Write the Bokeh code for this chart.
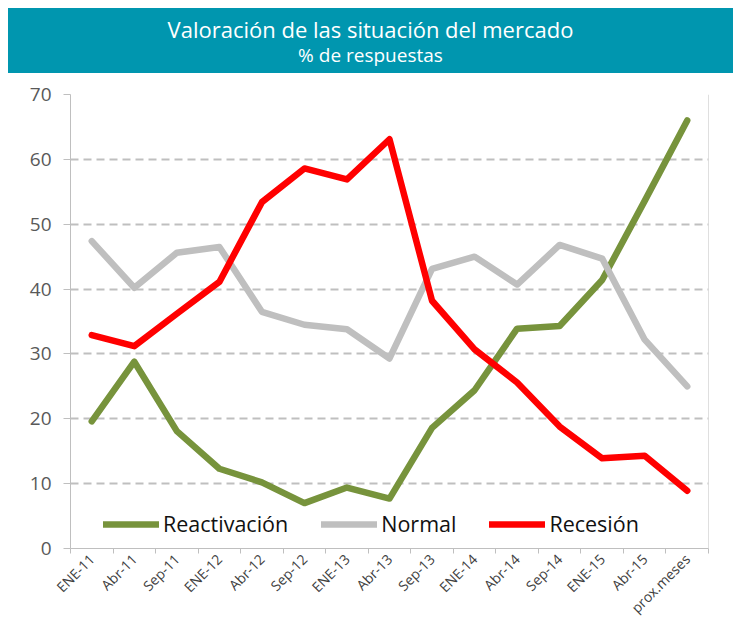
from bokeh.plotting import figure
from bokeh.models import (Range1d, FixedTicker, Legend, LegendItem, Span, Div)
from bokeh.layouts import column
from bokeh.embed import file_html
from bokeh.resources import INLINE

categories = ["ENE-11", "Abr-11", "Sep-11", "ENE-12", "Abr-12", "Sep-12", "ENE-13",
              "Abr-13", "Sep-13", "ENE-14", "Abr-14", "Sep-14", "ENE-15", "Abr-15",
              "prox.meses"]
reactivacion = [19.6, 28.8, 18.1, 12.3, 10.2, 7.0, 9.4, 7.7, 18.6, 24.4, 33.9, 34.3, 41.4, 53.6, 66.0]
normal = [47.4, 40.2, 45.6, 46.5, 36.5, 34.5, 33.8, 29.3, 43.1, 45.0, 40.7, 46.8, 44.7, 32.2, 25.0]
recesion = [32.9, 31.2, 36.2, 41.1, 53.4, 58.6, 56.9, 63.1, 38.2, 30.7, 25.6, 18.8, 13.9, 14.3, 8.9]
y_ticks = [0, 10, 20, 30, 40, 50, 60, 70]
title_1 = "Valoración de las situación del mercado"
title_2 = "% de respuestas"

FONT = "Open Sans"
TEAL = "#0096AF"
W = 725
BANNER_H = 65
MAIN_H = 553

# ---- banner ----
banner = Div(
    text=(f'<div style="font-size:22px;line-height:26px;padding-top:8px;">{title_1}</div>'
          f'<div style="font-size:19px;line-height:26px;">{title_2}</div>'),
    width=W, height=BANNER_H, margin=(0, 0, 0, 0),
    styles={"background-color": TEAL, "color": "white", "text-align": "center",
            "font-family": "'Open Sans', sans-serif", "width": f"{W}px",
            "height": f"{BANNER_H}px", "box-sizing": "border-box", "overflow": "hidden"})

# ---- main chart ----
n = len(categories)
xs = [i + 0.5 for i in range(n)]

p = figure(width=W, height=MAIN_H, x_range=Range1d(0, n), y_range=Range1d(0, 70),
           toolbar_location=None, output_backend="svg",
           min_border_left=62, min_border_right=25, min_border_top=21, min_border_bottom=70,
           margin=(0, 0, 0, 0))
p.outline_line_color = None
p.background_fill_color = "white"
p.border_fill_color = "white"

p.xgrid.visible = False
p.ygrid.ticker = FixedTicker(ticks=y_ticks)
p.ygrid.grid_line_color = "#BFBFBF"
p.ygrid.grid_line_width = 2
p.ygrid.grid_line_dash = "8 5"

xa = p.xaxis[0]
xa.ticker = FixedTicker(ticks=xs, minor_ticks=list(range(n + 1)))
xa.major_label_overrides = {x: c for x, c in zip(xs, categories)}
xa.major_label_orientation = 0.785398
xa.major_tick_out = 0
xa.major_tick_in = 0
xa.minor_tick_out = 5
xa.minor_tick_in = 0
xa.minor_tick_line_color = "#BFBFBF"
xa.axis_line_color = "#BFBFBF"
xa.major_label_text_font = FONT
xa.major_label_text_font_size = "14px"
xa.major_label_text_line_height = 0.85
xa.major_label_text_color = "#404040"
xa.major_label_standoff = 3

ya = p.yaxis[0]
ya.ticker = FixedTicker(ticks=y_ticks)
ya.major_tick_out = 7
ya.major_tick_in = 0
ya.minor_tick_line_color = None
ya.major_tick_line_color = "#BFBFBF"
ya.axis_line_color = "#BFBFBF"
ya.major_label_text_font = FONT
ya.major_label_text_font_size = "19px"
ya.major_label_text_color = "#595959"
ya.major_label_standoff = 12

p.add_layout(Span(location=n, dimension="height", line_color="#BFBFBF", line_width=1))

r1 = p.line(xs, reactivacion, line_color="#77933C", line_width=6.5, line_cap="round", line_join="round")
r2 = p.line(xs, normal, line_color="#BFBFBF", line_width=6.5, line_cap="round", line_join="round")
r3 = p.line(xs, recesion, line_color="#FF0000", line_width=6.5, line_cap="round", line_join="round")

legend = Legend(items=[LegendItem(label="Reactivación", renderers=[r1]),
                       LegendItem(label="Normal", renderers=[r2]),
                       LegendItem(label="Recesión", renderers=[r3])],
                orientation="horizontal", location=(33, 10),
                glyph_width=56, glyph_height=24, label_height=24, label_standoff=4,
                spacing=33, padding=0, margin=0,
                border_line_alpha=0, background_fill_alpha=0,
                label_text_font=FONT, label_text_font_size="21.5px", label_text_color="#111111")
p.add_layout(legend)

layout = column(banner, p, spacing=0)
layout.margin = (8, 0, 0, 8)
open("out.html", "w").write(file_html(layout, INLINE))
